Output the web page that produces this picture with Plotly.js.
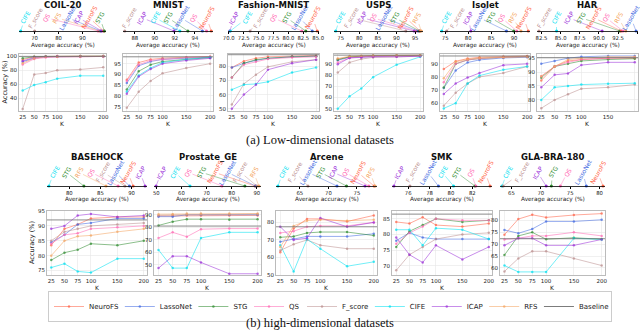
<!DOCTYPE html>
<html>
<head>
<meta charset="utf-8">
<script src="https://cdn.plot.ly/plotly-3.0.1.min.js"></script>
<style>
  html, body { margin: 0; padding: 0; background: #fff; }
  #chart { width: 640px; height: 334px; }
</style>
</head>
<body>
<div id="chart"></div>
<script>
const K = [25, 50, 75, 100, 150, 200];
const methods = ['NeuroFS', 'LassoNet', 'STG', 'QS', 'F_score', 'CIFE', 'ICAP', 'RFS'];
const colors = ['#ff6347', '#4169e1', '#2e8b2e', '#ff69b4', '#bc8f8f', '#00e0f0', '#9b30d9', '#f4a460'];
const datasets = ['COIL-20', 'MNIST', 'Fashion-MNIST', 'USPS', 'Isolet', 'HAR',
                  'BASEHOCK', 'Prostate_GE', 'Arcene', 'SMK', 'GLA-BRA-180'];

// accuracy (%) per method, rows follow `methods`; null = not run
const coil20 = [
  [95, 99, 99.5, 100, 100, 100],
  [92, 97, 99, 99, 99.5, 99.5],
  [97, 99, 99.5, 99.5, 100, 100],
  [88, 96, 98, 99, 99, 99.5],
  [25, 74, 76, 80, 81, 84],
  [51, 59, 63, 68, 72, 72],
  [93, 98, 99, 99.5, 99.5, 99.5],
  [90, 97, 99, 99, 99.5, 99.5]
];
const mnist = [
  [87.5, 95.5, 97, 97.5, 98, 98.3],
  [86, 94, 96, 97, 97.5, 98],
  [83, 91.5, 94.5, 96, 97, 97.8],
  [87, 94.5, 96.5, 97, 97.8, 98.2],
  [74.5, 82, 87, 90.5, 93, 95],
  [82, 89.5, 93, 95.5, 97, 98],
  [81, 89, 92.5, 95, 96.5, 97.5],
  null
];
const fashion = [
  [79, 83.5, 85.5, 86.5, 87, 87.5],
  [79, 82, 84, 85.5, 86.5, 87],
  [72, 82, 84.5, 85.5, 86.5, 87],
  [72, 81, 83, 85, 86, 86.5],
  [53, 67.5, 74, 79.5, 83, 84.5],
  [63.5, 67, 67.5, 69, 75.5, 79],
  [50, 60, 67, 77.5, 82, 84.5],
  null
];
const usps = [
  [94, 96, 96.5, 97, 97.2, 97.3],
  [93, 95.5, 96, 96.5, 97, 97],
  [93.5, 96, 96.5, 97, 97, 97.2],
  [91, 95, 96, 96.5, 96.5, 97],
  [82, 91, 94, 95.5, 96, 96.5],
  [50, 61, 68, 78, 89, 96],
  [89.5, 95, 95.5, 96, 96, 96.5],
  [94.5, 96.5, 97, 97.2, 97.3, 97.5]
];
const isolet = [
  [86, 92, 94, 95, 95.5, 96],
  [71.5, 85, 91, 93, 94.5, 95],
  [72, 90, 93, 94, 95, 95.5],
  [76, 90, 93, 94, 95, 95.5],
  [58, 68, 75, 80, 83, 88],
  [56, 60, 75, 81, 85.5, 88],
  [67, 75, 79.5, 83, 89, 90],
  [79, 91.5, 93.5, 94.5, 95, 95.5]
];
const har = [
  [87, 92, 94, 94.5, 95, 95],
  [93, 94, 95, 95.5, 95.8, 95.8],
  [88, 92, 93, 94, 94.5, 94.8],
  [88.5, 92, 93.5, 94.5, 95, 95.3],
  [77, 80, 82, 84, 84.5, 85.5],
  [80, 84.5, 85, 85.5, 85.8, 86],
  [84.5, 89, 89.5, 92.5, 93.5, 93.5],
  [88.5, 92, 94.5, 95, 95.5, 95.5]
];
const basehock = [
  [83.5, 89, 90.5, 92.5, 93, 93],
  [84.5, 87, 90.5, 91, 92.5, 92.5],
  [78.5, 81, 82, 84, 83.5, 85],
  [84, 87, 87.5, 89, 89.5, 90],
  [85, 88, 89, 90, 90.5, 91],
  [76, 77.3, 74.7, 74.3, 79, 79],
  [89, 90, 93.5, 94, 93, 93.5],
  [80, 85, 86.5, 86.8, 88, 89]
];
const prostate = [
  [89, 89, 89.5, 89.5, 89.5, 89.5],
  [88.5, 88.5, 90, 90, 90, 90],
  [81.5, 84.5, 86.5, 86.5, 86, 86.5],
  [71.5, 76, 72.5, 78.5, 79, 79],
  [89.5, 90, 90, 90, 90, 90.5],
  [62, 47.5, 47.5, 71.5, 76, 76],
  [47.5, 57, 57, 52, 43, 43],
  [90.5, 90.5, 91, 91, 91, 91]
];
const arcene = [
  [63, 76.5, 82, 82, 80.5, 84],
  [69, 70.5, 72, 72, 72, 73.5],
  [71.5, 72, 74, 74.5, 74.5, 72.5],
  [74, 75, 77.5, 78, 78, 80],
  [64, 67.5, 70, 67, 65, 65],
  [67, 52, 70.5, 65, 55, 57.5],
  [77.5, 70, 71, 82.5, 77.5, 80],
  [66, 78, 81, 81.5, 81, 81.5]
];
const smk = [
  [84, 83.5, 85.5, 83, 82.5, 83.5],
  [78, 80.5, 79, 78.5, 78.5, 78.5],
  [76, 81, 83, 85, 84, 84.5],
  [77, 80.5, 82.5, 85, 84.5, 84.5],
  [68.5, 73.5, 76, 78.5, 80, 80.5],
  [81.5, 81.5, 76.5, 82, 81.5, 78.5],
  [79, 73.5, 71, 76.5, 72, 76],
  null
];
const glabra = [
  [74, 80.6, 82.4, 81.3, 82.3, 82.9],
  [76, 74.6, 76.4, 79.6, 79.6, 80.3],
  [65.4, 73.5, 75, 72.1, 72.7, 72.1],
  [72, 72.5, 73.5, 73.5, 75, 73.5],
  [58.5, 64, 67, 67, 64, 61],
  [61, 58.3, 58.3, 58.3, 72.5, 72],
  [69.5, 72.5, 72.5, 69.5, 69.5, 72],
  null
];
const baseline = [99.6, 98.2, 88, 97.5, 96, 95.2, 92, 81, 77.5, 86.5, 72.3];

const accuracy = [coil20, mnist, fashion, usps, isolet, har, basehock, prostate, arcene, smk, glabra];

// axis settings per panel
const yRange = [[22, 103], [73, 99.5], [48.5, 88.5], [48, 98.5], [54, 97.5], [76, 96.5],
                [73.5, 95], [42, 93], [50, 86.5], [67, 87.5], [57, 84]];
const yStep = [20, 5, 10, 10, 10, 5, 5, 10, 10, 5, 5];
const stripStep = [10, 2, 2.5, 5, 5, 2.5, 5, 10, 5, 2, 5];
const plotX = [[19, 106], [123, 213], [228, 319], [334, 423], [440, 530], [537, 638],
               [47, 147], [154, 261], [276, 377], [392, 492], [500, 605]];
const rows = [
  {title: 5, strip: [9, 31], avg: 45, plot: [54, 111]},
  {title: 157, strip: [163, 186], avg: 200, plot: [211, 275]}
];

const W = 640, H = 334;
const FONT = 'DejaVu Sans';
const px = v => v / W;
const py = v => 1 - v / H;

function rgba(hex, a) {
  const n = parseInt(hex.slice(1), 16);
  return `rgba(${n >> 16},${(n >> 8) & 255},${n & 255},${a})`;
}

function label(x, y, text, font, extra) {
  return Object.assign({
    xref: 'paper', yref: 'paper', x: x, y: y, xanchor: 'center', yanchor: 'middle',
    showarrow: false, text: text, font: font
  }, extra || {});
}

// legend entries sized to their text so the box is as compact as the original
const measure = document.createElement('canvas').getContext('2d');
measure.font = '7px "DejaVu Sans"';
const legendW = name => Math.max(8, measure.measureText(name).width - 3.5);

const traces = [];
const annotations = [];
const shapes = [];
const layout = {
  width: W, height: H,
  margin: {l: 0, r: 0, t: 0, b: 0},
  paper_bgcolor: '#fff', plot_bgcolor: '#fff',
  font: {family: FONT, size: 6, color: '#222'},
  showlegend: true,
  legend: {
    orientation: 'h', x: px(48), xanchor: 'left', y: py(291), yanchor: 'top',
    traceorder: 'normal',
    bordercolor: '#cccccc', borderwidth: 1, bgcolor: '#fff', itemwidth: 30,
    font: {family: FONT, size: 7, color: '#222'}
  }
};

datasets.forEach((name, d) => {
  const row = d < 6 ? rows[0] : rows[1];
  const dom = [px(plotX[d][0]), px(plotX[d][1])];
  const pa = 2 * d + 1, sa = 2 * d + 2;
  const xp = 'x' + (pa === 1 ? '' : pa), yp = 'y' + (pa === 1 ? '' : pa);
  const xs = 'x' + sa, ys = 'y' + sa;
  const acc = accuracy[d];

  // line plot
  layout['xaxis' + (pa === 1 ? '' : pa)] = {
    domain: dom, anchor: yp, range: [17, 206],
    tickvals: K, ticktext: K.map(String), tickfont: {size: 5.5},
    showline: true, mirror: true, linecolor: '#bbbbbb', linewidth: 1,
    showgrid: true, gridcolor: '#e6e6e6', gridwidth: 0.6, zeroline: false, ticks: ''
  };
  layout['yaxis' + (pa === 1 ? '' : pa)] = {
    domain: [py(row.plot[1]), py(row.plot[0])], anchor: xp,
    range: yRange[d], dtick: yStep[d], tickfont: {size: 5.5},
    showline: true, mirror: true, linecolor: '#bbbbbb', linewidth: 1,
    showgrid: true, gridcolor: '#e6e6e6', gridwidth: 0.6, zeroline: false, ticks: ''
  };
  shapes.push({
    type: 'line', xref: xp + ' domain', yref: yp, x0: 0, x1: 1,
    y0: baseline[d], y1: baseline[d], line: {color: 'rgba(110,110,110,0.8)', width: 1}
  });
  acc.forEach((vals, m) => {
    if (!vals) return;
    traces.push({
      type: 'scatter', mode: 'lines+markers', x: K, y: vals, xaxis: xp, yaxis: yp,
      name: methods[m], showlegend: d === 0,
      legendwidth: legendW(methods[m]),
      line: {color: rgba(colors[m], 0.55), width: 1},
      marker: {color: rgba(colors[m], 0.7), size: 2.5}
    });
  });

  // average accuracy strip
  const avgs = acc.map(v => v ? v.reduce((a, b) => a + b, 0) / v.length : null);
  const order = avgs.map((a, m) => m).filter(m => avgs[m] !== null)
    .sort((a, b) => avgs[a] - avgs[b]);
  const lo = avgs[order[0]], hi = avgs[order[order.length - 1]];
  const pad = (hi - lo) * 0.02;
  const r0 = lo - pad, r1 = hi + pad;
  layout['xaxis' + sa] = {
    domain: dom, anchor: ys, range: [r0, r1], dtick: stripStep[d], tick0: 0,
    tickformat: stripStep[d] === 2.5 ? '.1f' : '', tickfont: {size: 5.3},
    showline: true, linecolor: '#000', linewidth: 0.8, ticks: 'outside', ticklen: 2,
    tickcolor: '#000', showgrid: false, zeroline: false
  };
  layout['yaxis' + sa] = {
    domain: [py(row.strip[1]), py(row.strip[0])], anchor: xs, range: [0, 1], visible: false
  };
  traces.push({
    type: 'scatter', mode: 'markers', xaxis: xs, yaxis: ys, showlegend: false,
    x: order.map(m => avgs[m]), y: order.map(() => 0), cliponaxis: false,
    marker: {color: order.map(m => colors[m]), size: 3}
  });
  order.forEach((m, i) => {
    annotations.push({
      xref: xs, yref: ys, axref: xs, ayref: ys,
      x: avgs[m], y: 0,
      ax: r0 + (0.07 + 0.86 * i / (order.length - 1)) * (r1 - r0), ay: 0.6,
      text: methods[m], textangle: -60,
      font: {family: FONT, size: 6, color: colors[m]},
      showarrow: true, arrowhead: 0, arrowwidth: 0.7, arrowcolor: rgba(colors[m], 0.6),
      standoff: 0, startstandoff: 0
    });
  });

  // titles and axis labels
  const cx = (dom[0] + dom[1]) / 2;
  annotations.push(label(cx, py(row.title), name,
    {family: FONT, size: 8.5, weight: 'bold', color: '#111'}));
  annotations.push(label(cx, py(row.avg), 'Average accuracy (%)',
    {family: FONT, size: 5.8, color: '#222'}));
  annotations.push(label(cx, py(row.plot[1] + 12), 'K',
    {family: FONT, size: 6, color: '#222'}));
  if (d === 0 || d === 6) {
    annotations.push(label(px(plotX[d][0] - 15), py((row.plot[0] + row.plot[1]) / 2),
      'Accuracy (%)', {family: FONT, size: 6.5, color: '#222'}, {textangle: -90}));
  }
});

traces.push({
  type: 'scatter', mode: 'lines', x: [null], y: [null], name: 'Baseline',
  legendwidth: legendW('Baseline'),
  line: {color: 'rgba(110,110,110,0.9)', width: 1}, showlegend: true
});

annotations.push(label(0.5, py(140), '(a) Low-dimensional datasets',
  {family: 'Liberation Serif', size: 12.5, color: '#111'}));
annotations.push(label(0.5, py(323), '(b) high-dimensional datasets',
  {family: 'Liberation Serif', size: 12.5, color: '#111'}));

layout.annotations = annotations;
layout.shapes = shapes;

Plotly.newPlot('chart', traces, layout, {displayModeBar: false, staticPlot: true});
</script>
</body>
</html>
